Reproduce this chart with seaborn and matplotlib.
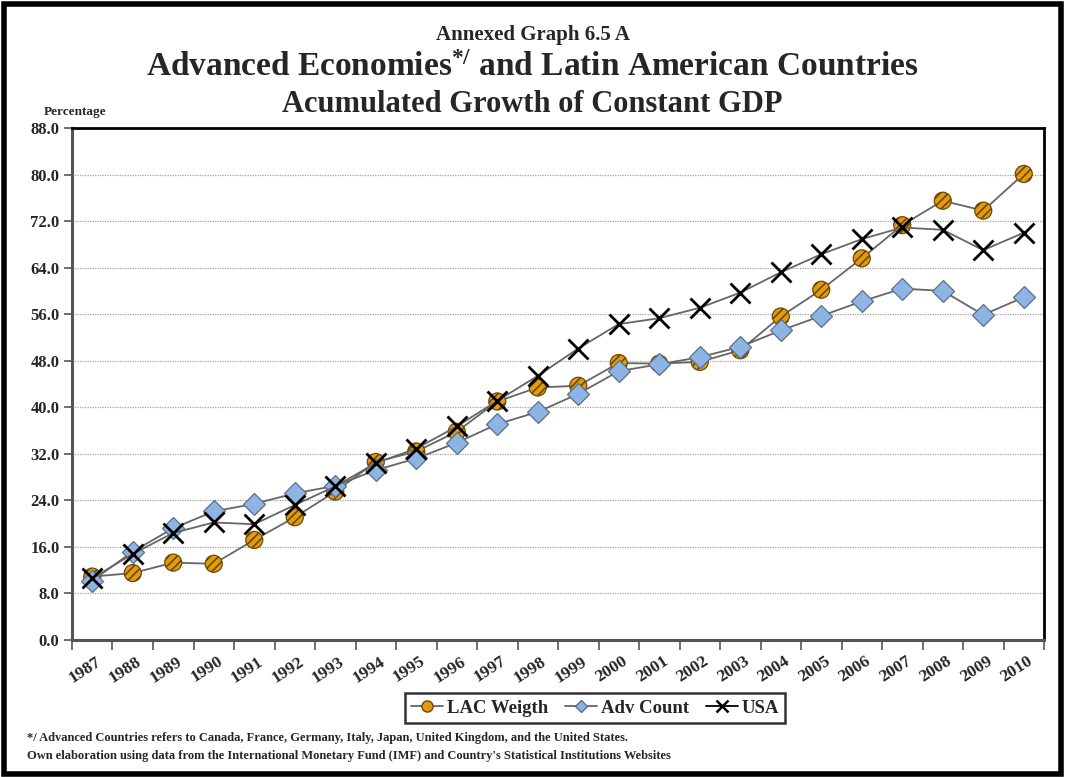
import numpy as np
import pandas as pd
import matplotlib
matplotlib.use("Agg")
import matplotlib.pyplot as plt
from matplotlib.patches import Rectangle
from matplotlib.lines import Line2D
import seaborn as sns

# Accumulated growth of constant GDP (%), 1987-2010
years = [str(y) for y in range(1987, 2011)]
lac_weigth = [10.9, 11.5, 13.3, 13.1, 17.2, 21.1, 25.5, 30.6, 32.4, 35.8, 41.0, 43.4,
              43.7, 47.6, 47.5, 47.8, 49.8, 55.6, 60.2, 65.6, 71.3, 75.5, 73.8, 80.1]
adv_count = [10.2, 15.2, 19.2, 22.1, 23.4, 25.2, 26.5, 29.2, 31.2, 33.9, 37.1, 39.2,
             42.3, 46.2, 47.4, 48.6, 50.4, 53.2, 55.7, 58.2, 60.4, 60.0, 55.9, 58.9]
usa = [10.6, 14.8, 18.4, 20.2, 19.9, 23.2, 26.4, 30.4, 32.9, 36.7, 41.1, 45.4,
       50.1, 54.3, 55.3, 57.1, 59.7, 63.2, 66.3, 68.9, 70.9, 70.5, 67.0, 70.0]
yticks = [0, 8, 16, 24, 32, 40, 48, 56, 64, 72, 80, 88]

sns.set_theme(style="white")
plt.rcParams["font.family"] = ["Liberation Serif", "DejaVu Serif"]
plt.rcParams["font.weight"] = "bold"
plt.rcParams["mathtext.fontset"] = "custom"
plt.rcParams["mathtext.rm"] = "Liberation Serif:bold"
plt.rcParams["mathtext.default"] = "rm"
plt.rcParams["hatch.linewidth"] = 1.2

df = pd.DataFrame({"pos": np.arange(len(years)), "year": years,
                   "LAC Weigth": lac_weigth, "Adv Count": adv_count, "USA": usa})

fig = plt.figure(figsize=(10.65, 7.77), dpi=100)
ax = fig.add_axes([72 / 1065, 1 - 640 / 777, (1044 - 72) / 1065, (640 - 128) / 777])

line_col = "#666666"
orange = "#E39A0E"
blue = "#8DB4E2"

# LAC: line then hatched circles
sns.lineplot(data=df, x="pos", y="LAC Weigth", ax=ax, color=line_col, lw=1.3, zorder=3)
ax.scatter(df["pos"], df["LAC Weigth"], s=150, facecolor=orange, edgecolor="#6b4a05",
           linewidth=0.9, hatch="////", zorder=4)
# Advanced countries: diamonds
sns.lineplot(data=df, x="pos", y="Adv Count", ax=ax, color=line_col, lw=1.3, zorder=5,
             marker="D", markersize=11, markerfacecolor=blue, markeredgecolor="#5a6f8a",
             markeredgewidth=0.9)
# USA: crosses
sns.lineplot(data=df, x="pos", y="USA", ax=ax, color=line_col, lw=1.3, zorder=6,
             marker="x", markersize=15, markeredgecolor="black", markeredgewidth=2.0)

ax.set_xlim(-0.5, len(years) - 0.5)
ax.set_ylim(0, 88)
ax.set_yticks(yticks)
ax.set_yticklabels([f"{v:.1f}" for v in yticks], fontsize=12, fontweight="bold")
ax.yaxis.grid(True, linestyle=(0, (1, 1)), color="#a0a0a0", lw=0.9)
ax.set_axisbelow(True)

# category boundaries carry the tick marks; labels hang from category centres
ax.set_xticks(np.arange(-0.5, len(years), 1.0))
ax.set_xticklabels([])
ax.tick_params(axis="x", direction="out", length=7, width=1.2, color="#555555", bottom=True)
ax.tick_params(axis="y", direction="out", length=6, width=1.2, color="#555555", left=True, pad=3)
for i, yr in enumerate(years):
    ax.text(i + 0.08, -2.3, yr, rotation=33, ha="right", va="top",
            rotation_mode="anchor", fontsize=12.5, fontweight="bold",
            transform=ax.transData)
ax.set_xlabel("")
ax.set_ylabel("")

for side in ["left", "bottom"]:
    ax.spines[side].set_color("#555555")
    ax.spines[side].set_linewidth(2.2)
for side in ["top", "right"]:
    ax.spines[side].set_color("black")
    ax.spines[side].set_linewidth(2.0)

# titles
fig.text(0.5, 1 - 35 / 777, "Annexed Graph 6.5 A", ha="center", va="center",
         fontsize=15, fontweight="bold")
fig.text(0.5, 1 - 68 / 777, r"Advanced Economies$^{*/}$ and Latin American Countries",
         ha="center", va="center", fontsize=24, fontweight="bold")
fig.text(0.5, 1 - 105 / 777, "Acumulated Growth of Constant GDP", ha="center",
         va="center", fontsize=22, fontweight="bold")
fig.text(44 / 1065, 1 - 112 / 777, "Percentage", ha="left", va="center",
         fontsize=9.5, fontweight="bold")

# legend
handles = [
    Line2D([], [], color=line_col, lw=1.3, marker="o", markersize=8,
           markerfacecolor=orange, markeredgecolor="#6b4a05"),
    Line2D([], [], color=line_col, lw=1.3, marker="D", markersize=6,
           markerfacecolor=blue, markeredgecolor="#5a6f8a"),
    Line2D([], [], color="black", lw=1.3, marker="x", markersize=9,
           markeredgecolor="black", markeredgewidth=1.8),
]
leg = fig.legend(handles, ["LAC Weigth", "Adv Count", "USA"], loc="center",
                 bbox_to_anchor=(595 / 1065, 1 - 708 / 777), ncol=3, frameon=True,
                 fancybox=False, edgecolor="black", fontsize=13.5, handlelength=1.7,
                 handletextpad=0.2, columnspacing=0.9, borderpad=0.35)
leg.get_frame().set_linewidth(1.8)
for t in leg.get_texts():
    t.set_fontweight("bold")

# footnotes
fig.text(27 / 1065, 1 - 738 / 777,
         "*/ Advanced Countries refers to Canada, France, Germany, Italy, Japan, United Kingdom, and the United States.",
         ha="left", va="center", fontsize=9.0, fontweight="bold")
fig.text(27 / 1065, 1 - 756 / 777,
         "Own elaboration using data from the International Monetary Fund (IMF) and Country's Statistical Institutions Websites",
         ha="left", va="center", fontsize=9.0, fontweight="bold")

# outer frame
fig.patches.append(Rectangle((4 / 1065, 3 / 777), 1 - 8 / 1065, 1 - 7 / 777,
                             transform=fig.transFigure, fill=False,
                             edgecolor="black", lw=4, zorder=10))

fig.savefig("out.png", dpi=100)
